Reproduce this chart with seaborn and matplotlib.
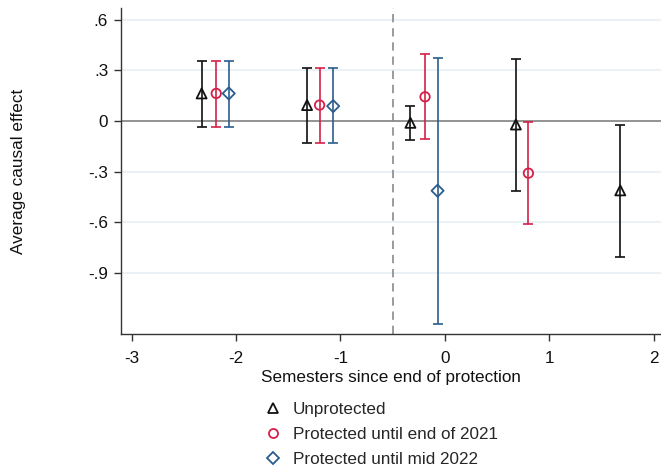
import matplotlib
matplotlib.use("Agg")
import matplotlib.pyplot as plt
from matplotlib.lines import Line2D
import seaborn as sns
import pandas as pd

# ---- data ----
series_names = ["Unprotected", "Protected until end of 2021", "Protected until mid 2022"]

x_unprot = [-2.33, -1.32, -0.33, 0.68, 1.68]
y_unprot = [0.164, 0.095, -0.010, -0.020, -0.410]
lo_unprot = [-0.034, -0.132, -0.114, -0.414, -0.807]
hi_unprot = [0.357, 0.315, 0.087, 0.367, -0.020]

x_p2021 = [-2.19, -1.20, -0.19, 0.80]
y_p2021 = [0.164, 0.095, 0.144, -0.308]
lo_p2021 = [-0.034, -0.132, -0.105, -0.609]
hi_p2021 = [0.357, 0.315, 0.396, -0.006]

x_p2022 = [-2.07, -1.07, -0.07]
y_p2022 = [0.164, 0.089, -0.412]
lo_p2022 = [-0.034, -0.132, -1.199]
hi_p2022 = [0.357, 0.315, 0.375]

x_ticks = [-3, -2, -1, 0, 1, 2]
x_ticklabels = ["-3", "-2", "-1", "0", "1", "2"]
y_ticks = [0.6, 0.3, 0.0, -0.3, -0.6, -0.9]
y_ticklabels = [".6", ".3", "0", "-.3", "-.6", "-.9"]

x_label = "Semesters since end of protection"
y_label = "Average causal effect"

colors = ["#111111", "#d42048", "#2a5d8e"]
markers = ["^", "o", "D"]
sizes = [52, 46, 38]

sns.set_theme(style="white")
plt.rcParams["font.family"] = ["Liberation Sans", "DejaVu Sans"]

fig = plt.figure(figsize=(6.61, 4.68), dpi=100)
ax = fig.add_axes([120.7 / 661, 1 - 334.3 / 468, 1 - 120.7 / 661, (334.3 - 8.3) / 468])

# grid lines and reference lines
for yt in y_ticks:
    if yt != 0:
        ax.axhline(yt, color="#e8f0f3", lw=1.2, zorder=0)
ax.axhline(0, color="#8a8a8a", lw=1.3, zorder=1)
ax.axvline(-0.5, color="#8a8a8a", lw=1.2, ls=(0, (5, 3.5)), zorder=1)

data = [
    (x_unprot, y_unprot, lo_unprot, hi_unprot),
    (x_p2021, y_p2021, lo_p2021, hi_p2021),
    (x_p2022, y_p2022, lo_p2022, hi_p2022),
]

for i, (xs, ys, lo, hi) in enumerate(data):
    df = pd.DataFrame({"x": xs, "y": ys, "lo": lo, "hi": hi})
    ax.errorbar(df["x"], df["y"],
                yerr=[df["y"] - df["lo"], df["hi"] - df["y"]],
                fmt="none", ecolor=colors[i], elinewidth=1.2,
                capsize=3.6, capthick=1.2, zorder=2)
    sns.scatterplot(data=df, x="x", y="y", ax=ax, marker=markers[i], s=sizes[i],
                    color=colors[i], facecolor="none", edgecolor=colors[i],
                    linewidth=1.3, zorder=3, legend=False)

ax.set_xlim(-3.105, 2.07)
ax.set_ylim(-1.262, 0.668)
ax.set_xticks(x_ticks)
ax.set_xticklabels(x_ticklabels)
ax.set_yticks(y_ticks)
ax.set_yticklabels(y_ticklabels)

for side in ["top", "right"]:
    ax.spines[side].set_visible(False)
for side in ["left", "bottom"]:
    ax.spines[side].set_color("#333333")
    ax.spines[side].set_linewidth(1.0)

ax.tick_params(axis="both", which="major", length=5, width=1.0, color="#333333",
               labelsize=12.3, labelcolor="#111111", left=True, bottom=True)
ax.tick_params(axis="x", pad=7)
ax.tick_params(axis="y", pad=4)

ax.set_xlabel(x_label, fontsize=12.3, color="#111111", labelpad=3)
ax.set_ylabel(y_label, fontsize=12.3, color="#111111", labelpad=45)
ax.grid(False)

handles = [
    Line2D([], [], ls="none", marker=markers[i], markersize=ms,
           markerfacecolor="none", markeredgecolor=colors[i], markeredgewidth=1.3)
    for i, ms in enumerate([6.5, 6.5, 6])
]
fig.legend(handles, series_names, loc="upper left",
           bbox_to_anchor=(264 / 661, 1 - 402 / 468), frameon=False,
           fontsize=12.3, handlelength=1.0, handletextpad=0.7,
           labelspacing=0.58, borderaxespad=0, borderpad=0)

fig.savefig("out.png", dpi=100)
